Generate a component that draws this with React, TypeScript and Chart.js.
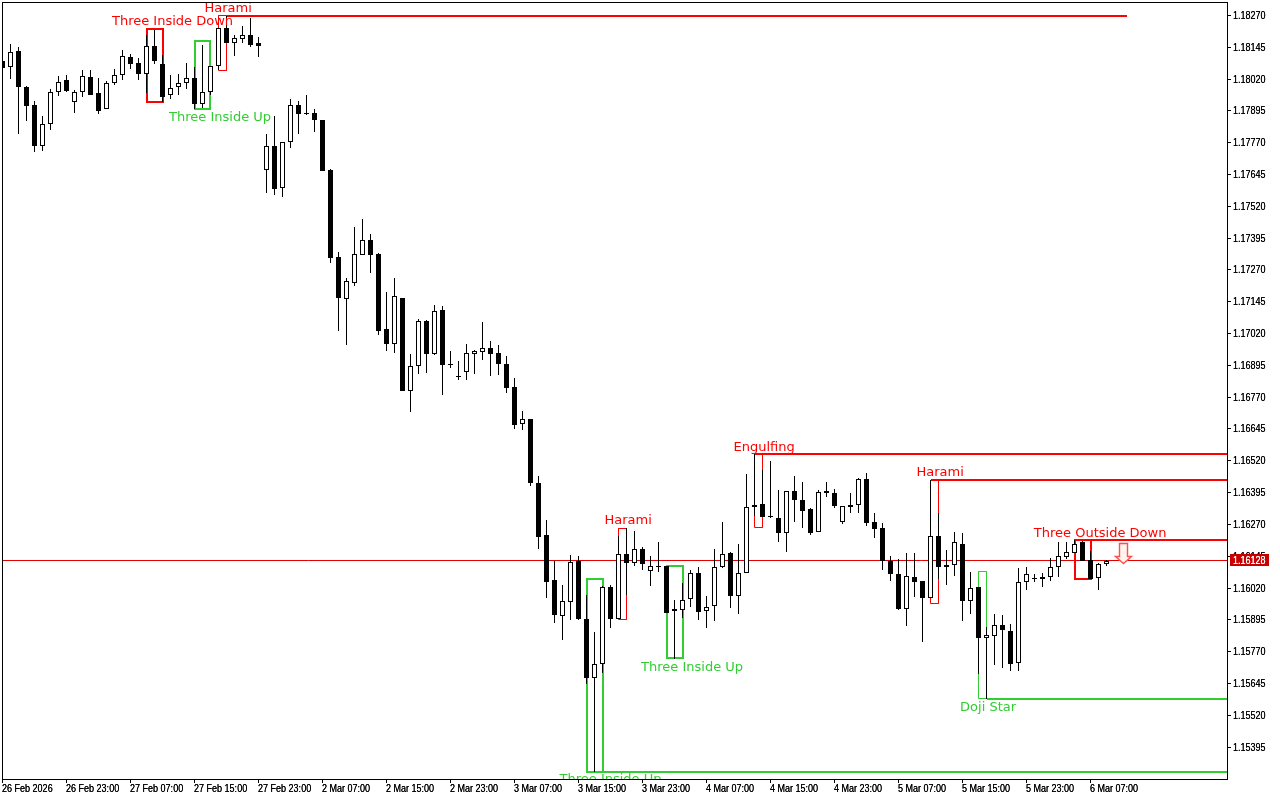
import React, { useEffect, useRef } from "react";
import { Chart, registerables } from "chart.js";

Chart.register(...registerables);

const highs = [1.18091,1.18158,1.18145,1.17993,1.17934,1.17875,1.17981,1.18032,1.18036,1.17977,1.18055,1.18055,1.18023,1.18012,1.18058,1.18133,1.18118,1.18103,1.18193,1.18213,1.18113,1.18036,1.18040,1.18082,1.18066,1.18154,1.18070,1.18219,1.18268,1.18192,1.18228,1.18258,1.18184,1.17803,1.17875,1.17774,1.17941,1.17934,1.17957,1.17902,1.17861,1.17665,1.17340,1.17237,1.17438,1.17470,1.17411,1.17335,1.17183,1.17238,1.17158,1.16939,1.17077,1.17073,1.17132,1.17128,1.16951,1.16912,1.16979,1.16954,1.17064,1.16989,1.16975,1.16931,1.16844,1.16715,1.16686,1.16460,1.16287,1.16127,1.16031,1.16149,1.16145,1.15992,1.15847,1.16028,1.16031,1.16224,1.16254,1.16244,1.16181,1.16145,1.16200,1.16108,1.15973,1.16039,1.16089,1.16102,1.15988,1.16173,1.16279,1.16162,1.16195,1.16468,1.16546,1.16483,1.16518,1.16407,1.16401,1.16460,1.16436,1.16333,1.16407,1.16436,1.16411,1.16342,1.16393,1.16452,1.16472,1.16313,1.16274,1.16145,1.16136,1.16157,1.16157,1.16046,1.16444,1.16313,1.16168,1.16242,1.16238,1.16085,1.16026,1.15868,1.15917,1.15914,1.15878,1.16097,1.16104,1.16077,1.16080,1.16140,1.16199,1.16199,1.16207,1.16206,1.16164,1.16117,1.16130];
const opens = [1.18091,1.18066,1.18130,1.17987,1.17917,1.17755,1.17845,1.17968,1.18015,1.17928,1.17968,1.18027,1.17964,1.17901,1.18003,1.18034,1.18106,1.18082,1.18038,1.18148,1.18078,1.17956,1.17987,1.18003,1.18023,1.17923,1.17968,1.18070,1.18219,1.18163,1.18179,1.18192,1.18162,1.17661,1.17755,1.17590,1.17771,1.17917,1.17885,1.17885,1.17861,1.17661,1.17319,1.17157,1.17220,1.17327,1.17386,1.17331,1.17036,1.16980,1.17158,1.16796,1.16893,1.17068,1.16941,1.17111,1.16900,1.16855,1.16867,1.16941,1.16948,1.16965,1.16942,1.16899,1.16808,1.16663,1.16686,1.16431,1.16227,1.16050,1.15912,1.15967,1.16126,1.15900,1.15667,1.15722,1.16026,1.15899,1.16152,1.16120,1.16172,1.16088,1.16106,1.16106,1.15928,1.15932,1.15975,1.16081,1.15928,1.15948,1.16101,1.16156,1.15987,1.16081,1.16337,1.16349,1.16305,1.16297,1.16235,1.16400,1.16364,1.16329,1.16242,1.16401,1.16392,1.16278,1.16345,1.16345,1.16447,1.16279,1.16254,1.16128,1.16077,1.15938,1.16062,1.16046,1.15982,1.16223,1.16109,1.16111,1.16195,1.15970,1.16026,1.15825,1.15832,1.15874,1.15853,1.15724,1.16042,1.16059,1.16062,1.16062,1.16104,1.16143,1.16159,1.16199,1.16132,1.16060,1.16113];
const closes = [1.18065,1.18125,1.17990,1.17915,1.17758,1.17842,1.17968,1.18010,1.17974,1.17968,1.18031,1.17958,1.17896,1.18003,1.18034,1.18109,1.18080,1.18041,1.18148,1.18092,1.17951,1.17986,1.18003,1.18023,1.17923,1.17968,1.18070,1.18219,1.18163,1.18180,1.18192,1.18155,1.18151,1.17755,1.17589,1.17771,1.17917,1.17884,1.17882,1.17860,1.17660,1.17318,1.17161,1.17225,1.17331,1.17386,1.17330,1.17031,1.16980,1.17166,1.16795,1.16891,1.17068,1.16941,1.17107,1.16897,1.16896,1.16850,1.16942,1.16950,1.16965,1.16941,1.16901,1.16807,1.16662,1.16686,1.16434,1.16221,1.16045,1.15915,1.15970,1.16123,1.15899,1.15667,1.15722,1.16026,1.15899,1.16152,1.16120,1.16172,1.16115,1.16105,1.16104,1.15923,1.15936,1.15974,1.16081,1.15927,1.15946,1.16101,1.16152,1.15990,1.16080,1.16339,1.16347,1.16300,1.16299,1.16237,1.16400,1.16367,1.16324,1.16237,1.16396,1.16394,1.16343,1.16341,1.16339,1.16447,1.16276,1.16253,1.16128,1.16076,1.15937,1.16066,1.16043,1.15982,1.16223,1.16104,1.16104,1.16199,1.15969,1.16022,1.15825,1.15834,1.15873,1.15856,1.15722,1.16042,1.16077,1.16054,1.16056,1.16104,1.16144,1.16160,1.16195,1.16128,1.16055,1.16113,1.16128];
const lows = [1.18065,1.18021,1.17804,1.17856,1.17733,1.17738,1.17820,1.17953,1.17969,1.17888,1.17949,1.17958,1.17883,1.17901,1.17996,1.18016,1.18059,1.18016,1.17965,1.18080,1.17931,1.17943,1.17957,1.17981,1.17902,1.17905,1.17957,1.18054,1.18163,1.18112,1.18163,1.18147,1.18108,1.17573,1.17564,1.17555,1.17750,1.17804,1.17878,1.17813,1.17660,1.17298,1.17031,1.16975,1.17208,1.17327,1.17259,1.17014,1.16952,1.16945,1.16795,1.16711,1.16862,1.16866,1.16937,1.16780,1.16886,1.16838,1.16838,1.16862,1.16917,1.16854,1.16858,1.16787,1.16646,1.16642,1.16422,1.16174,1.15982,1.15883,1.15817,1.15895,1.15895,1.15644,1.15297,1.15686,1.15864,1.15899,1.15992,1.16108,1.16090,1.16029,1.16083,1.15920,1.15743,1.15904,1.15946,1.15894,1.15863,1.15891,1.16100,1.15942,1.15919,1.16081,1.16303,1.16300,1.16296,1.16202,1.16161,1.16279,1.16256,1.16228,1.16242,1.16379,1.16334,1.16271,1.16313,1.16314,1.16263,1.16218,1.16092,1.16047,1.15935,1.15870,1.15986,1.15807,1.15982,1.16055,1.16031,1.16067,1.15890,1.15917,1.15684,1.15586,1.15717,1.15707,1.15695,1.15695,1.16012,1.16042,1.16025,1.16049,1.16064,1.16135,1.16159,1.16128,1.16054,1.16012,1.16107];

const timeTickIndex = [0,8,16,24,32,40,48,56,64,72,80,88,96,104,112,120,128,136];
const timeTickLabels = ["26 Feb 2026","26 Feb 23:00","27 Feb 07:00","27 Feb 15:00","27 Feb 23:00","2 Mar 07:00","2 Mar 15:00","2 Mar 23:00","3 Mar 07:00","3 Mar 15:00","3 Mar 23:00","4 Mar 07:00","4 Mar 15:00","4 Mar 23:00","5 Mar 07:00","5 Mar 15:00","5 Mar 23:00","6 Mar 07:00"];
const priceTicks = [1.1827,1.18145,1.1802,1.17895,1.1777,1.17645,1.1752,1.17395,1.1727,1.17145,1.1702,1.16895,1.1677,1.16645,1.1652,1.16395,1.1627,1.16145,1.1602,1.15895,1.1577,1.15645,1.1552,1.15395];
const lastPrice = 1.16128;

const patternNames = ["Three Inside Down","Harami","Three Inside Up","Three Inside Up","Harami","Three Inside Up","Engulfing","Harami","Doji Star","Three Outside Down"];
const patternBullish = [false,false,true,true,false,true,false,false,true,false];
const patternFrom = [18,27,24,73,77,83,94,116,122,134];
const patternTo = [20,28,26,75,78,85,95,117,123,136];
const patternTop = [1.18218,1.18268,1.18170,1.16055,1.16254,1.16108,1.16546,1.16444,1.16085,1.16208];
const patternBottom = [1.17931,1.18054,1.17902,1.15298,1.15897,1.15745,1.16258,1.15959,1.15586,1.16056];
const levelPrice = [null,1.18268,null,1.15298,null,null,1.16546,1.16444,1.15586,1.16208];
const levelFrom = [null,28,null,75,null,null,94,116,123,134];
const levelEnd = [null,140.6,null,153.06,null,null,153.06,153.06,153.06,153.06];
const labelIndex = [21.25,28.2,27.2,76,78.2,86.2,95.2,117.2,123.2,137.2];
const labelPrice = [1.18246,1.18299,1.17871,1.15268,1.16287,1.15710,1.16575,1.16474,1.15553,1.16238];
const signalIndex = 140;
const signalPrice = 1.16196;

const RED = "#FF0000";
const GREEN = "#32CD32";
const AXIS_FONT = '"Liberation Sans",sans-serif';
const NARROW = 0.82;

const snap = {
  id: "snap",
  afterDatasetsUpdate(chart: any) {
    chart.getSortedVisibleDatasetMetas().forEach((meta: any) => {
      if (meta.type === "bar") {
        meta.data.forEach((el: any) => {
          el.x = Math.floor(el.x) + 0.5;
          el.y = Math.round(el.y);
          el.base = Math.round(el.base);
          if (el.y === el.base) el.y -= 1;
        });
      } else {
        const w = chart.data.datasets[meta.index].borderWidth;
        meta.data.forEach((el: any) => {
          el.x = w % 2 ? Math.floor(el.x) + 0.5 : Math.round(el.x);
          el.y = w % 2 ? Math.floor(el.y) + 0.5 : Math.round(el.y);
        });
      }
    });
  },
};

function condensed(ctx: any, text: string, x: number, y: number) {
  const w = ctx.measureText(text).width * NARROW;
  ctx.fillText(text, x, y, w);
  ctx.fillText(text, x, y, w);
}

const overlay = {
  id: "overlay",
  afterDatasetsDraw(chart: any) {
    const { ctx, chartArea: a, scales } = chart;
    ctx.save();
    ctx.beginPath();
    ctx.rect(a.left, a.top, a.width, a.height);
    ctx.clip();
    ctx.font = '13px "DejaVu Sans"';
    ctx.textAlign = "center";
    ctx.textBaseline = "middle";
    patternNames.forEach((name, i) => {
      ctx.fillStyle = patternBullish[i] ? GREEN : RED;
      ctx.fillText(name, scales.x.getPixelForValue(labelIndex[i]), scales.y.getPixelForValue(labelPrice[i]) + 0.6);
    });
    const ax = Math.round(scales.x.getPixelForValue(signalIndex)) + 0.5;
    const ay = Math.round(scales.y.getPixelForValue(signalPrice)) + 0.5;
    ctx.beginPath();
    ctx.moveTo(ax - 4, ay);
    ctx.lineTo(ax + 4, ay);
    ctx.lineTo(ax + 4, ay + 13);
    ctx.lineTo(ax + 8, ay + 13);
    ctx.lineTo(ax, ay + 20);
    ctx.lineTo(ax - 8, ay + 13);
    ctx.lineTo(ax - 4, ay + 13);
    ctx.closePath();
    ctx.fillStyle = "#FFF4EE";
    ctx.fill();
    ctx.strokeStyle = "#FF5050";
    ctx.lineWidth = 1.4;
    ctx.stroke();
    ctx.restore();
  },
  afterDraw(chart: any) {
    const { ctx, chartArea: a, scales } = chart;
    ctx.save();
    ctx.strokeStyle = "#000";
    ctx.lineWidth = 1;
    ctx.strokeRect(a.left + 0.5, a.top + 0.5, a.width, a.height);

    ctx.fillStyle = "#000";
    ctx.font = "11px " + AXIS_FONT;
    ctx.textAlign = "left";
    ctx.textBaseline = "middle";
    scales.x.ticks.forEach((t: any) => {
      condensed(ctx, t.label, Math.floor(scales.x.getPixelForValue(t.value)), a.bottom + 9.5);
    });
    scales.y.ticks.forEach((t: any) => {
      condensed(ctx, t.label, a.right + 6, Math.floor(scales.y.getPixelForValue(t.value)) + 1);
    });

    const py = Math.floor(scales.y.getPixelForValue(lastPrice));
    ctx.fillStyle = "#C80000";
    ctx.fillRect(a.right + 3, py - 6, 39, 12);
    ctx.fillStyle = "#FFF";
    condensed(ctx, lastPrice.toFixed(5), a.right + 6, py + 1);
    ctx.restore();
  },
};

export default function App() {
  const ref = useRef<HTMLCanvasElement>(null);
  useEffect(() => {
    document.body.style.margin = "0";
    document.body.style.background = "#fff";
    const idx = highs.map((_, i) => i);
    const up = idx.filter((i) => closes[i] >= opens[i]);
    const down = idx.filter((i) => closes[i] < opens[i]);
    const body = (i: number) => ({ x: i, y: [opens[i], closes[i]] });
    const datasets: any[] = [
      { type: "line", label: "last", order: 20, data: [{ x: -0.0625, y: lastPrice }, { x: 153.0625, y: lastPrice }], borderColor: "#E00000", borderWidth: 1, pointRadius: 0 },
    ];
    patternNames.forEach((name, i) => {
      const color = patternBullish[i] ? GREEN : RED;
      const w = patternTo[i] - patternFrom[i] === 2 ? 2 : 1;
      const f = patternFrom[i], t = patternTo[i];
      datasets.push({
        type: "line", label: name, order: 10, borderColor: color, borderWidth: w, pointRadius: 0, borderJoinStyle: "miter", borderCapStyle: "square",
        data: [{ x: f, y: patternTop[i] }, { x: t, y: patternTop[i] }, { x: t, y: patternBottom[i] }, { x: f, y: patternBottom[i] }, { x: f, y: patternTop[i] }],
      });
      if (levelPrice[i] !== null) {
        datasets.push({
          type: "line", label: name + " level", order: 10, borderColor: color, borderWidth: 2, pointRadius: 0,
          data: [{ x: levelFrom[i], y: levelPrice[i] }, { x: levelEnd[i], y: levelPrice[i] }],
        });
      }
    });
    const barBase = { type: "bar", grouped: false, barPercentage: 1, categoryPercentage: 1, inflateAmount: 0, borderSkipped: false };
    datasets.push(
      { ...barBase, label: "wick", order: 3, maxBarThickness: 1, backgroundColor: "#000", borderWidth: 0, data: idx.map((i) => ({ x: i, y: [lows[i], highs[i]] })) },
      { ...barBase, label: "up", order: 1, maxBarThickness: 5, backgroundColor: "#FFF", borderColor: "#000", borderWidth: 1, data: up.map(body) },
      { ...barBase, label: "down", order: 1, maxBarThickness: 5, backgroundColor: "#000", borderColor: "#000", borderWidth: 1, data: down.map(body) },
    );
    const chart = new Chart(ref.current as HTMLCanvasElement, {
      type: "bar",
      data: { datasets },
      plugins: [snap, overlay],
      options: {
        animation: false,
        responsive: false,
        devicePixelRatio: 1,
        events: [],
        layout: { padding: { left: 2, top: 2, right: 0, bottom: 0 } },
        plugins: { legend: { display: false }, tooltip: { enabled: false }, title: { display: false } },
        scales: {
          x: {
            type: "linear", min: -0.0625, max: 153.0625, offset: false, bounds: "data",
            afterBuildTicks: (s: any) => { s.ticks = timeTickIndex.map((value) => ({ value })); },
            afterFit: (s: any) => { s.height = 21; s.paddingLeft = 0; s.paddingRight = 0; s.paddingTop = 0; s.paddingBottom = 0; },
            border: { display: false },
            grid: { offset: false, drawOnChartArea: false, drawTicks: true, tickLength: 4, tickColor: "#000", tickWidth: 1 },
            ticks: {
              display: false, autoSkip: false, maxRotation: 0, minRotation: 0,
              callback: (v: any) => timeTickLabels[timeTickIndex.indexOf(v)] ?? "",
            },
          },
          y: {
            type: "linear", position: "right", min: 1.152697, max: 1.183227, bounds: "data",
            afterBuildTicks: (s: any) => { s.ticks = priceTicks.map((value) => ({ value })); },
            afterFit: (s: any) => { s.width = 53; s.paddingLeft = 0; s.paddingRight = 0; s.paddingTop = 0; s.paddingBottom = 0; },
            border: { display: false },
            grid: { drawOnChartArea: false, drawTicks: true, tickLength: 4, tickColor: "#000", tickWidth: 1 },
            ticks: {
              display: false, autoSkip: false,
              callback: (v: any) => Number(v).toFixed(5),
            },
          },
        },
      } as any,
    } as any);
    return () => chart.destroy();
  }, []);
  return <canvas ref={ref} width={1280} height={800} style={{ display: "block" }} />;
}
